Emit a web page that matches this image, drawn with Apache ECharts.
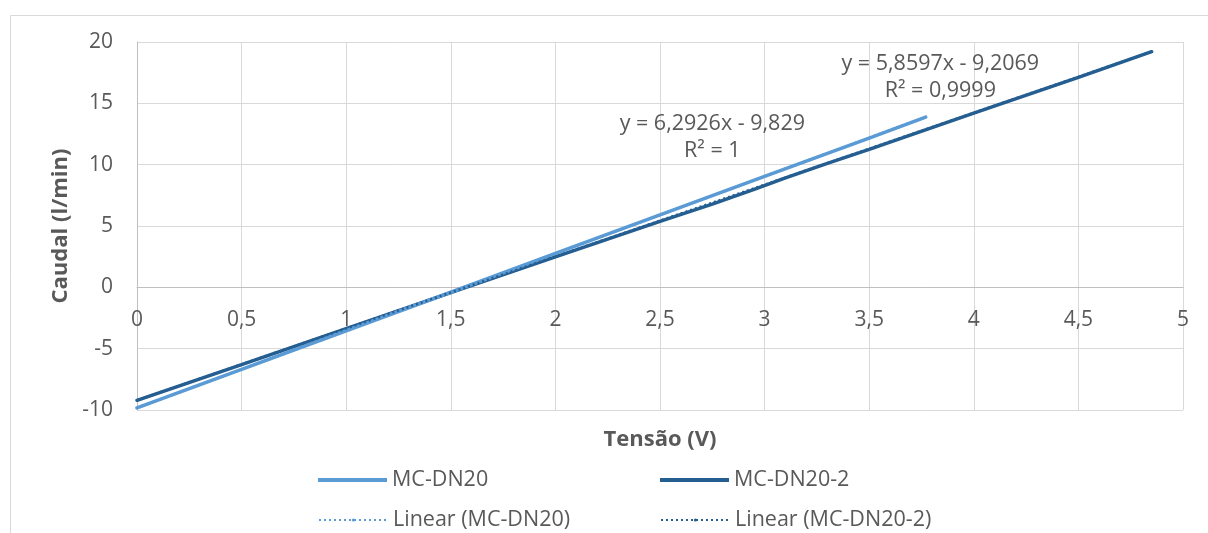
<!DOCTYPE html>
<html>
<head>
<meta charset="utf-8">
<script src="https://cdn.jsdelivr.net/npm/echarts@6/dist/echarts.min.js"></script>
<style>
html,body{margin:0;padding:0;background:#fff;}
#chart{width:1208px;height:533px;}
</style>
</head>
<body>
<div id="chart"></div>
<script>
// ---- data ----
const seriesNames = ['MC-DN20', 'MC-DN20-2', 'Linear (MC-DN20)', 'Linear (MC-DN20-2)'];
const xDN20   = [0, 0.5, 1, 1.5, 2, 2.5, 3, 3.5, 3.77];
const yDN20   = [-9.83, -6.68, -3.54, -0.40, 2.76, 5.90, 9.04, 12.17, 13.88];
const xDN20b  = [0, 0.5, 1, 1.5, 2, 2.5, 2.75, 2.95, 3.1, 3.3, 3.5, 4, 4.5, 4.85];
const yDN20b  = [-9.21, -6.30, -3.36, -0.43, 2.49, 5.38, 6.78, 7.98, 8.92, 10.10, 11.25, 14.20, 17.12, 19.21];
const xTrend1 = [0, 3.77];
const yTrend1 = [-9.83, 13.89];
const xTrend2 = [0, 4.85];
const yTrend2 = [-9.21, 19.21];
const eqLabel1 = ['y = 6,2926x - 9,829', 'R² = 1'];
const eqLabel2 = ['y = 5,8597x - 9,2069', 'R² = 0,9999'];
const eqPos1 = [2.75, 12.25];
const eqPos2 = [3.84, 17.1];
const xTicks = { min: 0, max: 5, interval: 0.5 };
const yTicks = { min: -10, max: 20, interval: 5 };

const pair = (xs, ys) => xs.map((x, i) => [x, ys[i]]);
const fmt = v => String(v).replace('.', ',');

const LIGHT = '#5B9BD5';
const DARK = '#255E91';
const TXT = '#595959';
const FONT = '"Open Sans", "Noto Sans", sans-serif';

const GRID = { left: 137, right: 25, top: 42, bottom: 123 };
const plotH = 533 - GRID.top - GRID.bottom;
// x axis sits on y = 0
const zeroOffset = -plotH * (0 - yTicks.min) / (yTicks.max - yTicks.min);

const chart = echarts.init(document.getElementById('chart'), null, {renderer: 'canvas'});

const legendBase = {
  orient: 'horizontal', padding: 0,
  itemWidth: 69, itemHeight: 4, itemGap: 8,
  textStyle: { color: TXT, fontSize: 21.5, fontFamily: FONT },
};

chart.setOption({
  animation: false,
  backgroundColor: '#fff',
  grid: Object.assign({ containLabel: false, outerBoundsMode: 'none' }, GRID),
  graphic: [{
    type: 'rect', left: 8, top: 13, silent: true, z: -10,
    shape: { width: 1400, height: 700 },
    style: { fill: 'none', stroke: '#D9D9D9', lineWidth: 1 }
  }],
  xAxis: {
    type: 'value', min: xTicks.min, max: xTicks.max, interval: xTicks.interval,
    position: 'bottom', offset: zeroOffset,
    name: 'Tensão (V)', nameLocation: 'middle', nameGap: 141,
    nameTextStyle: { color: TXT, fontSize: 22, fontWeight: 'bold', fontFamily: FONT },
    axisLine: { show: true, onZero: false, lineStyle: { color: '#BFBFBF', width: 1 } },
    axisTick: { show: false },
    axisLabel: { color: TXT, fontSize: 21, fontFamily: FONT, margin: 22, formatter: fmt },
    splitLine: { show: true, lineStyle: { color: '#D9D9D9', width: 1 } }
  },
  yAxis: {
    type: 'value', min: yTicks.min, max: yTicks.max, interval: yTicks.interval,
    name: 'Caudal (l/min)', nameLocation: 'middle', nameGap: 65, nameRotate: 90,
    nameTextStyle: { color: TXT, fontSize: 22, fontWeight: 'bold', fontFamily: FONT },
    axisLine: { show: true, onZero: false, lineStyle: { color: '#BFBFBF', width: 1 } },
    axisTick: { show: false },
    axisLabel: { color: TXT, fontSize: 21, fontFamily: FONT, margin: 24, formatter: fmt },
    splitLine: { show: true, lineStyle: { color: '#D9D9D9', width: 1 } }
  },
  legend: [
    Object.assign({}, legendBase, { left: 318, top: 469, data: [{ name: seriesNames[0], icon: 'rect' }] }),
    Object.assign({}, legendBase, { left: 660, top: 469, data: [{ name: seriesNames[1], icon: 'rect' }] }),
    Object.assign({}, legendBase, { left: 318, top: 509, data: [seriesNames[2]] }),
    Object.assign({}, legendBase, { left: 660, top: 509, data: [seriesNames[3]] })
  ],
  series: [
    {
      name: seriesNames[0], type: 'line', data: pair(xDN20, yDN20),
      showSymbol: false, symbol: 'none', smooth: false, z: 3,
      lineStyle: { color: LIGHT, width: 3.5, cap: 'round' }, itemStyle: { color: LIGHT }
    },
    {
      name: seriesNames[1], type: 'line', data: pair(xDN20b, yDN20b),
      showSymbol: false, symbol: 'none', smooth: false, z: 2,
      lineStyle: { color: DARK, width: 3.5, cap: 'round' }, itemStyle: { color: DARK }
    },
    {
      name: seriesNames[2], type: 'line', data: pair(xTrend1, yTrend1),
      showSymbol: false, symbol: 'none', z: 4,
      lineStyle: { color: LIGHT, width: 2.5, type: [2, 3] }, itemStyle: { color: LIGHT },
      markPoint: {
        symbol: 'rect', symbolSize: 0,
        data: [{ coord: eqPos1, value: 0 }],
        label: { show: true, formatter: eqLabel1.join('\n'), color: TXT, fontSize: 21.5,
          fontFamily: FONT, lineHeight: 27, align: 'center' }
      }
    },
    {
      name: seriesNames[3], type: 'line', data: pair(xTrend2, yTrend2),
      showSymbol: false, symbol: 'none', z: 4,
      lineStyle: { color: DARK, width: 2.5, type: [2, 3] }, itemStyle: { color: DARK },
      markPoint: {
        symbol: 'rect', symbolSize: 0,
        data: [{ coord: eqPos2, value: 0 }],
        label: { show: true, formatter: eqLabel2.join('\n'), color: TXT, fontSize: 21.5,
          fontFamily: FONT, lineHeight: 27, align: 'center' }
      }
    }
  ]
});
</script>
</body>
</html>
